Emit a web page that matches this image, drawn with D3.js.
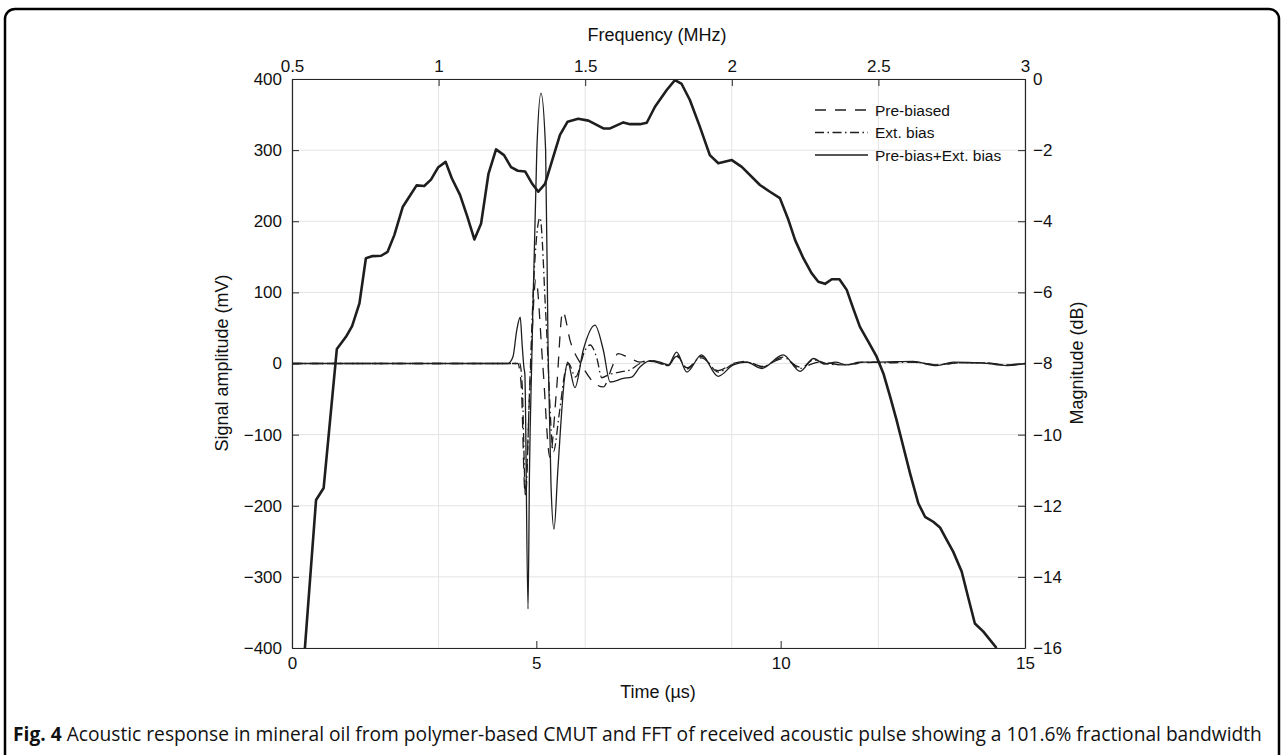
<!DOCTYPE html>
<html>
<head>
<meta charset="utf-8">
<script src="https://cdn.jsdelivr.net/npm/d3@7/dist/d3.min.js"></script>
<style>
  html, body { margin: 0; padding: 0; background: #fff; }
  svg { display: block; }
</style>
</head>
<body>
<svg id="chart" width="1284" height="755"></svg>
<script>
// time signals (µs, mV)
const tSolid = [0, 4.42, 4.52, 4.60, 4.67, 4.71, 4.745, 4.765, 4.83, 4.86, 4.905, 5.01, 5.095, 5.19, 5.24, 5.30, 5.362, 5.44, 5.58, 5.64, 5.79, 5.96, 6.20, 6.37, 6.51, 6.78, 6.95, 7.12, 7.33, 7.53, 7.70, 7.87, 8.08, 8.38, 8.72, 9.03, 9.30, 9.61, 10.05, 10.40, 10.67, 10.91, 11.12, 11.35, 11.62, 12.0, 12.71, 13.19, 13.53, 14.1, 14.63, 15];
const vSolid = [0, 0, 9, 47, 65, 26, -5, -15, -345, -150, 0, 300, 380, 300, 20, -170, -233, -150, -19, 2, -34, 19, 54, 19, -26, -21, -19, -5, 4, 2, -2, 16, -12, 12, -18, -2, 2, -7, 12, -11, 7, -1, 2, -2, 2, 2, 3, -3, 2, 1, -3, 0];

const tDashDot = [0, 4.66, 4.71, 4.78, 4.86, 4.95, 5.075, 5.20, 5.35, 5.47, 5.60, 5.66, 5.80, 6.00, 6.10, 6.24, 6.34, 6.47, 6.71, 6.92, 7.12, 7.33, 7.53, 7.70, 7.87, 8.08, 8.38, 8.72, 9.03, 9.30, 9.61, 10.05, 10.40, 10.67, 11.0, 11.35, 11.7, 12.2, 12.7, 13.2, 13.6, 14.1, 14.6, 15];
const vDashDot = [0, 0, -30, -187, -40, 120, 205, 60, -124, -70, -8, 0, -19, 19, 26, 7, -20, -16, -12, -9, 0, 3, 1, -3, 12, -8, 10, -12, -1, 2, -5, 9, -7, 5, -1, -2, 2, 1, 2, -2, 1, 1, -2, 0];

const tDashed = [0, 4.62, 4.69, 4.77, 4.87, 4.99, 5.13, 5.28, 5.41, 5.54, 5.70, 5.95, 6.15, 6.37, 6.55, 6.67, 6.90, 7.12, 7.33, 7.53, 7.70, 7.87, 8.08, 8.38, 8.72, 9.03, 9.30, 9.61, 10.05, 10.40, 10.8, 11.3, 11.7, 12.2, 12.7, 13.2, 13.7, 14.2, 14.6, 15];
const vDashed = [0, 0, -30, -183, -30, 118, 0, -132, -40, 73, 30, -5, -25, -33, -5, 14, 8, 2, 5, 0, -2, 10, -6, 8, -10, 0, 3, -4, 7, -5, 2, -2, 1, 2, 2, -2, 1, 1, -2, 0];

// FFT (MHz, dB)
const fFft = [0.544, 0.582, 0.608, 0.653, 0.684, 0.705, 0.730, 0.752, 0.775, 0.804, 0.826, 0.849, 0.878, 0.900, 0.925, 0.951, 0.974, 0.999, 1.024, 1.045, 1.073, 1.098, 1.122, 1.145, 1.170, 1.196, 1.223, 1.247, 1.270, 1.295, 1.318, 1.340, 1.363, 1.390, 1.414, 1.440, 1.476, 1.511, 1.562, 1.585, 1.630, 1.653, 1.687, 1.710, 1.738, 1.778, 1.806, 1.829, 1.857, 1.891, 1.925, 1.954, 2.000, 2.034, 2.096, 2.130, 2.164, 2.193, 2.216, 2.244, 2.272, 2.295, 2.318, 2.341, 2.367, 2.392, 2.414, 2.437, 2.466, 2.494, 2.517, 2.540, 2.562, 2.585, 2.608, 2.636, 2.659, 2.687, 2.710, 2.733, 2.755, 2.784, 2.807, 2.829, 2.858, 2.903];
const dbFft = [-16.0, -11.84, -11.50, -7.59, -7.25, -6.95, -6.31, -5.04, -4.98, -4.97, -4.86, -4.39, -3.59, -3.31, -2.99, -3.01, -2.83, -2.48, -2.33, -2.79, -3.26, -3.87, -4.51, -4.06, -2.67, -1.98, -2.14, -2.48, -2.58, -2.60, -2.93, -3.17, -2.95, -2.22, -1.57, -1.20, -1.12, -1.17, -1.39, -1.39, -1.22, -1.27, -1.27, -1.23, -0.78, -0.31, -0.03, -0.14, -0.59, -1.34, -2.14, -2.37, -2.28, -2.47, -2.98, -3.17, -3.35, -3.96, -4.53, -5.04, -5.46, -5.70, -5.76, -5.63, -5.63, -5.93, -6.45, -6.97, -7.39, -7.81, -8.28, -8.93, -9.59, -10.34, -11.09, -11.93, -12.31, -12.45, -12.61, -12.96, -13.29, -13.85, -14.60, -15.31, -15.54, -16.0];

const timeTicks = [0, 5, 10, 15];
const freqTicks = [0.5, 1, 1.5, 2, 2.5, 3];
const ampTicks = [-400, -300, -200, -100, 0, 100, 200, 300, 400];
const dbTicks = [-16, -14, -12, -10, -8, -6, -4, -2, 0];

const legendNames = ['Pre-biased', 'Ext. bias', 'Pre-bias+Ext. bias'];

const W = 1284, H = 755;
const plot = { left: 292, right: 1025, top: 79, bottom: 648 };
const ink = '#1e1e1e';
const axisInk = '#262626';
const font = '"Liberation Sans", Arial, Helvetica, sans-serif';

const svg = d3.select('#chart');

// figure frame
svg.append('rect')
  .attr('x', 5).attr('y', 9)
  .attr('width', 1274).attr('height', 790)
  .attr('rx', 10)
  .attr('fill', 'none')
  .attr('stroke', '#000')
  .attr('stroke-width', 2.5);

const x = d3.scaleLinear().domain([0, 15]).range([plot.left, plot.right]);
const xf = d3.scaleLinear().domain([0.5, 3]).range([plot.left, plot.right]);
const y = d3.scaleLinear().domain([-400, 400]).range([plot.bottom, plot.top]);
const yd = d3.scaleLinear().domain([-16, 0]).range([plot.bottom, plot.top]);

// grid
const grid = svg.append('g').attr('stroke', '#e3e3e3').attr('stroke-width', 1);
freqTicks.forEach(f => {
  grid.append('line')
    .attr('x1', xf(f)).attr('x2', xf(f))
    .attr('y1', plot.top).attr('y2', plot.bottom);
});
ampTicks.forEach(a => {
  grid.append('line')
    .attr('x1', plot.left).attr('x2', plot.right)
    .attr('y1', y(a)).attr('y2', y(a));
});

svg.append('clipPath').attr('id', 'clip')
  .append('rect')
  .attr('x', plot.left).attr('y', plot.top)
  .attr('width', plot.right - plot.left).attr('height', plot.bottom - plot.top);

const pulse = d3.line()
  .x(d => x(d[0]))
  .y(d => y(d[1]))
  .curve(d3.curveMonotoneX);

const zipped = (a, b) => a.map((v, i) => [v, b[i]]);

const lines = svg.append('g').attr('clip-path', 'url(#clip)');

const series = [
  { t: tDashed, v: vDashed, dash: '11,9' },
  { t: tDashDot, v: vDashDot, dash: '9,3.5,1.5,3.5' },
  { t: tSolid, v: vSolid, dash: null }
];

series.forEach(s => {
  lines.append('path')
    .datum(zipped(s.t, s.v))
    .attr('fill', 'none')
    .attr('stroke', ink)
    .attr('stroke-width', 1.3)
    .attr('stroke-dasharray', s.dash)
    .attr('d', pulse);
});

const fftLine = d3.line()
  .x(d => xf(d[0]))
  .y(d => yd(d[1]));

lines.append('path')
  .datum(zipped(fFft, dbFft))
  .attr('fill', 'none')
  .attr('stroke', ink)
  .attr('stroke-width', 2.6)
  .attr('stroke-linejoin', 'round')
  .attr('d', fftLine);

// axes
const fmt = d3.format('~g');

function styleAxis(g) {
  g.select('.domain').attr('stroke', axisInk).attr('stroke-width', 1.2);
  g.selectAll('.tick line').attr('stroke', axisInk).attr('stroke-width', 1);
  g.selectAll('.tick text')
    .attr('fill', '#111')
    .style('font-family', font)
    .style('font-size', '17px');
}

svg.append('g')
  .attr('transform', `translate(0,${plot.bottom})`)
  .call(d3.axisBottom(x).tickValues(timeTicks).tickFormat(fmt).tickSizeInner(-7).tickSizeOuter(0).tickPadding(9))
  .call(styleAxis);

svg.append('g')
  .attr('transform', `translate(0,${plot.top})`)
  .call(d3.axisTop(xf).tickValues(freqTicks).tickFormat(fmt).tickSizeInner(-7).tickSizeOuter(0).tickPadding(7))
  .call(styleAxis);

svg.append('g')
  .attr('transform', `translate(${plot.left},0)`)
  .call(d3.axisLeft(y).tickValues(ampTicks).tickFormat(fmt).tickSizeInner(-7).tickSizeOuter(0).tickPadding(10))
  .call(styleAxis);

svg.append('g')
  .attr('transform', `translate(${plot.right},0)`)
  .call(d3.axisRight(yd).tickValues(dbTicks).tickFormat(fmt).tickSizeInner(-7).tickSizeOuter(0).tickPadding(8))
  .call(styleAxis);

// axis titles
const title = (txt, tx, ty, rot) => svg.append('text')
  .attr('transform', `translate(${tx},${ty}) rotate(${rot})`)
  .attr('text-anchor', 'middle')
  .attr('fill', '#111')
  .style('font-family', font)
  .style('font-size', '18px')
  .text(txt);

title('Time (\u00b5s)', 658, 698, 0);
title('Frequency (MHz)', 657, 41, 0);
title('Signal amplitude (mV)', 228, 363, -90);
title('Magnitude (dB)', 1083, 363, -90);

// legend
const legend = svg.append('g');
series.forEach((s, i) => {
  const ly = 110 + i * 22.5;
  legend.append('line')
    .attr('x1', 815).attr('x2', 868)
    .attr('y1', ly).attr('y2', ly)
    .attr('stroke', ink)
    .attr('stroke-width', 1.3)
    .attr('stroke-dasharray', s.dash);
  legend.append('text')
    .attr('x', 875).attr('y', ly + 5.5)
    .attr('fill', '#111')
    .style('font-family', font)
    .style('font-size', '15.5px')
    .text(legendNames[i]);
});

// caption
const cap = svg.append('text')
  .attr('x', 13).attr('y', 741)
  .attr('fill', '#111')
  .style('font-family', '"Open Sans", "Noto Sans", sans-serif')
  .style('font-size', '19.2px');
cap.append('tspan').style('font-weight', 'bold').text('Fig. 4');
cap.append('tspan').text(' Acoustic response in mineral oil from polymer-based CMUT and FFT of received acoustic pulse showing a 101.6% fractional bandwidth');
</script>
</body>
</html>
